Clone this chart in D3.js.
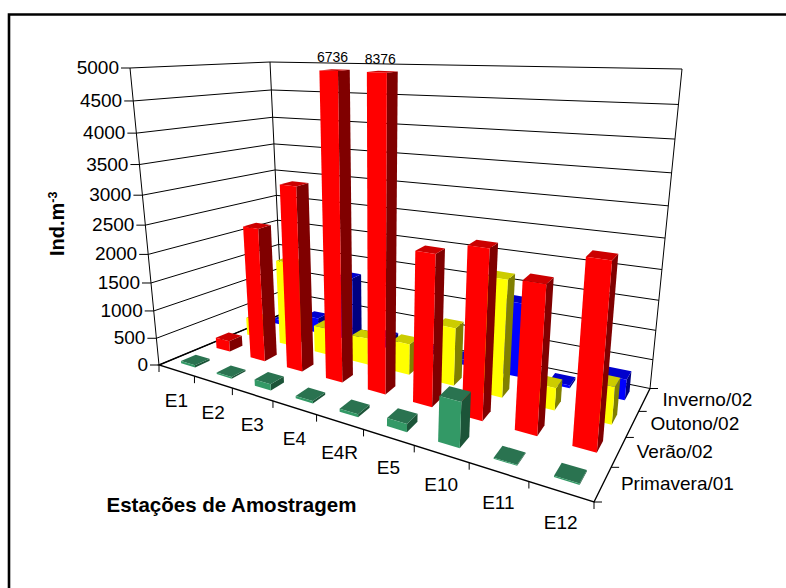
<!DOCTYPE html>
<html>
<head>
<meta charset="utf-8">
<script src="https://cdn.jsdelivr.net/npm/d3@7"></script>
<style>
  html, body { margin: 0; padding: 0; background: #fff; }
  svg { display: block; }
  text { font-family: "Liberation Sans", Arial, sans-serif; fill: #000; }
</style>
</head>
<body>
<svg id="chart" width="786" height="588"></svg>
<script>
const stations = ["E1", "E2", "E3", "E4", "E4R", "E5", "E10", "E11", "E12"];
const seasons = ["Primavera/01", "Verão/02", "Outono/02", "Inverno/02"];
const valueTicks = [0, 500, 1000, 1500, 2000, 2500, 3000, 3500, 4000, 4500, 5000];

const primavera = [40, 30, 110, 40, 50, 130, 700, 15, 20];
const verao = [200, 2400, 3200, 6736, 8376, 2450, 2650, 2270, 2730];
const outono = [350, 1600, 500, 480, 550, 1000, 1950, 370, 600];
const inverno = [100, 300, 1230, 200, 100, 100, 1300, 50, 350];
const seriesValues = [primavera, verao, outono, inverno];

const seriesColors = [
  { front: "#339966", side: "#1c5438", top: "#2a7350" },
  { front: "#ff0000", side: "#800000", top: "#cc0000" },
  { front: "#ffff00", side: "#808000", top: "#cccc00" },
  { front: "#0000ff", side: "#000080", top: "#0000cc" }
];

// Corners of the plot box in page pixels: front-left, front-right, back-right, back-left.
const floorQuad = [[159, 365], [594, 502], [650, 388.5], [282, 314]];
const ceilQuad = [[130, 68], [626, 90], [682, 69], [270, 62]];
const stationWarp = -0.29, seasonWarp = 0.32, heightWarp = -0.11;

// Perspective foreshortening along one axis of the box.
const warp = (x, p) => x * (1 + p) / (1 + p * x);

function bilerp(q, U, V) {
  const x0 = q[0][0] + (q[1][0] - q[0][0]) * U, y0 = q[0][1] + (q[1][1] - q[0][1]) * U;
  const x1 = q[3][0] + (q[2][0] - q[3][0]) * U, y1 = q[3][1] + (q[2][1] - q[3][1]) * U;
  return [x0 + (x1 - x0) * V, y0 + (y1 - y0) * V];
}

// Box coordinates (each 0..1) to page pixels.
function project(u, v, w) {
  const U = warp(u, stationWarp), V = warp(v, seasonWarp), t = warp(w, heightWarp);
  const f = bilerp(floorQuad, U, V), c = bilerp(ceilQuad, U, V);
  return [f[0] + (c[0] - f[0]) * t, f[1] + (c[1] - f[1]) * t];
}

// Scales: station across the floor, season into the floor, value up the walls.
const uBand = d3.scaleBand().domain(stations).range([0, 1]).paddingInner(0.6).paddingOuter(0.3);
const vBand = d3.scaleBand().domain(seasons).range([0, 1]).paddingInner(0.6).paddingOuter(0.3);
const wScale = d3.scaleLinear().domain([0, 5000]).range([0, 1]).clamp(true);
const uStep = uBand.step(), vStep = vBand.step();

const svg = d3.select("#chart");
const poly = d3.line().curve(d3.curveLinearClosed);
const seg = d3.line();

// Chart frame, cut off by the page on the right and at the bottom
svg.append("path").attr("d", seg([[9, 588], [9, 14.5], [786, 14.5]]))
  .attr("fill", "none").attr("stroke", "#000").attr("stroke-width", 2.6);

const walls = svg.append("g").attr("fill", "none").attr("stroke", "#000").attr("stroke-width", 1);

// Gridlines on the left and back walls
valueTicks.forEach(t => {
  const w = wScale(t);
  walls.append("path").attr("d", seg([project(0, 0, w), project(0, 1, w), project(1, 1, w)]));
});
// Vertical wall edges
[[0, 0], [0, 1], [1, 1]].forEach(([u, v]) => {
  walls.append("path").attr("d", seg([project(u, v, 0), project(u, v, 1)]));
});
// Floor edges
walls.append("path").attr("stroke-width", 1.4)
  .attr("d", seg([project(0, 1, 0), project(0, 0, 0), project(1, 0, 0), project(1, 1, 0)]));

// Tick marks
valueTicks.forEach(t => {
  const p = project(0, 0, wScale(t));
  walls.append("path").attr("d", seg([p, [p[0] - 9, p[1]]]));
});
d3.range(stations.length + 1).forEach(i => {
  const p = project(i * uStep, 0, 0);
  walls.append("path").attr("d", seg([p, [p[0], p[1] + 7]]));
});
d3.range(seasons.length + 1).forEach(i => {
  const p = project(1, i * vStep, 0);
  walls.append("path").attr("d", seg([p, [p[0] + 8, p[1]]]));
});

// Bars, painted from the back row forward and left to right
const bars = svg.append("g");
d3.range(seasons.length - 1, -1, -1).forEach(si => {
  const season = seasons[si], colors = seriesColors[si];
  const v0 = vBand(season), v1 = v0 + vBand.bandwidth();
  stations.forEach((st, ci) => {
    const u0 = uBand(st), u1 = u0 + uBand.bandwidth();
    const h = wScale(seriesValues[si][ci]);
    bars.append("path").attr("fill", colors.side)
      .attr("d", poly([project(u1, v0, 0), project(u1, v1, 0), project(u1, v1, h), project(u1, v0, h)]));
    bars.append("path").attr("fill", colors.top)
      .attr("d", poly([project(u0, v0, h), project(u1, v0, h), project(u1, v1, h), project(u0, v1, h)]));
    bars.append("path").attr("fill", colors.front)
      .attr("d", poly([project(u0, v0, 0), project(u1, v0, 0), project(u1, v0, h), project(u0, v0, h)]));
  });
});

// Value labels for the two bars that run past the top of the axis
seriesValues[1].forEach((val, ci) => {
  if (val <= 5000) return;
  const u0 = uBand(stations[ci]), v0 = vBand(seasons[1]);
  const left = project(u0, v0, 1), right = project(u0 + uBand.bandwidth(), v0 + vBand.bandwidth(), 1);
  svg.append("text").attr("x", (left[0] + right[0]) / 2 - 2).attr("y", left[1] - 8)
    .attr("text-anchor", "middle").attr("font-size", 14).text(val);
});

// Axis labels
const labelSize = 19;
valueTicks.forEach(t => {
  const p = project(0, 0, wScale(t));
  svg.append("text").attr("x", p[0] - 11).attr("y", p[1] + 6)
    .attr("text-anchor", "end").attr("font-size", labelSize).text(t);
});
stations.forEach(st => {
  const p = project(uBand(st) + uBand.bandwidth() / 2, 0, 0);
  svg.append("text").attr("x", p[0]).attr("y", p[1] + 37)
    .attr("text-anchor", "middle").attr("font-size", labelSize).text(st);
});
seasons.forEach(s => {
  const p = project(1, vBand(s) + vBand.bandwidth() / 2, 0);
  svg.append("text").attr("x", p[0] + 18).attr("y", p[1] + 6)
    .attr("font-size", labelSize).text(s);
});

// Axis titles
const yTitle = svg.append("text").attr("transform", "translate(63.5,256) rotate(-90)")
  .attr("font-size", 20).attr("font-weight", "bold");
yTitle.append("tspan").text("Ind.m");
yTitle.append("tspan").attr("font-size", 12.5).attr("dy", -7).text("-3");

svg.append("text").attr("x", 106.5).attr("y", 512)
  .attr("font-size", 20.5).attr("font-weight", "bold").text("Estações de Amostragem");
</script>
</body>
</html>
